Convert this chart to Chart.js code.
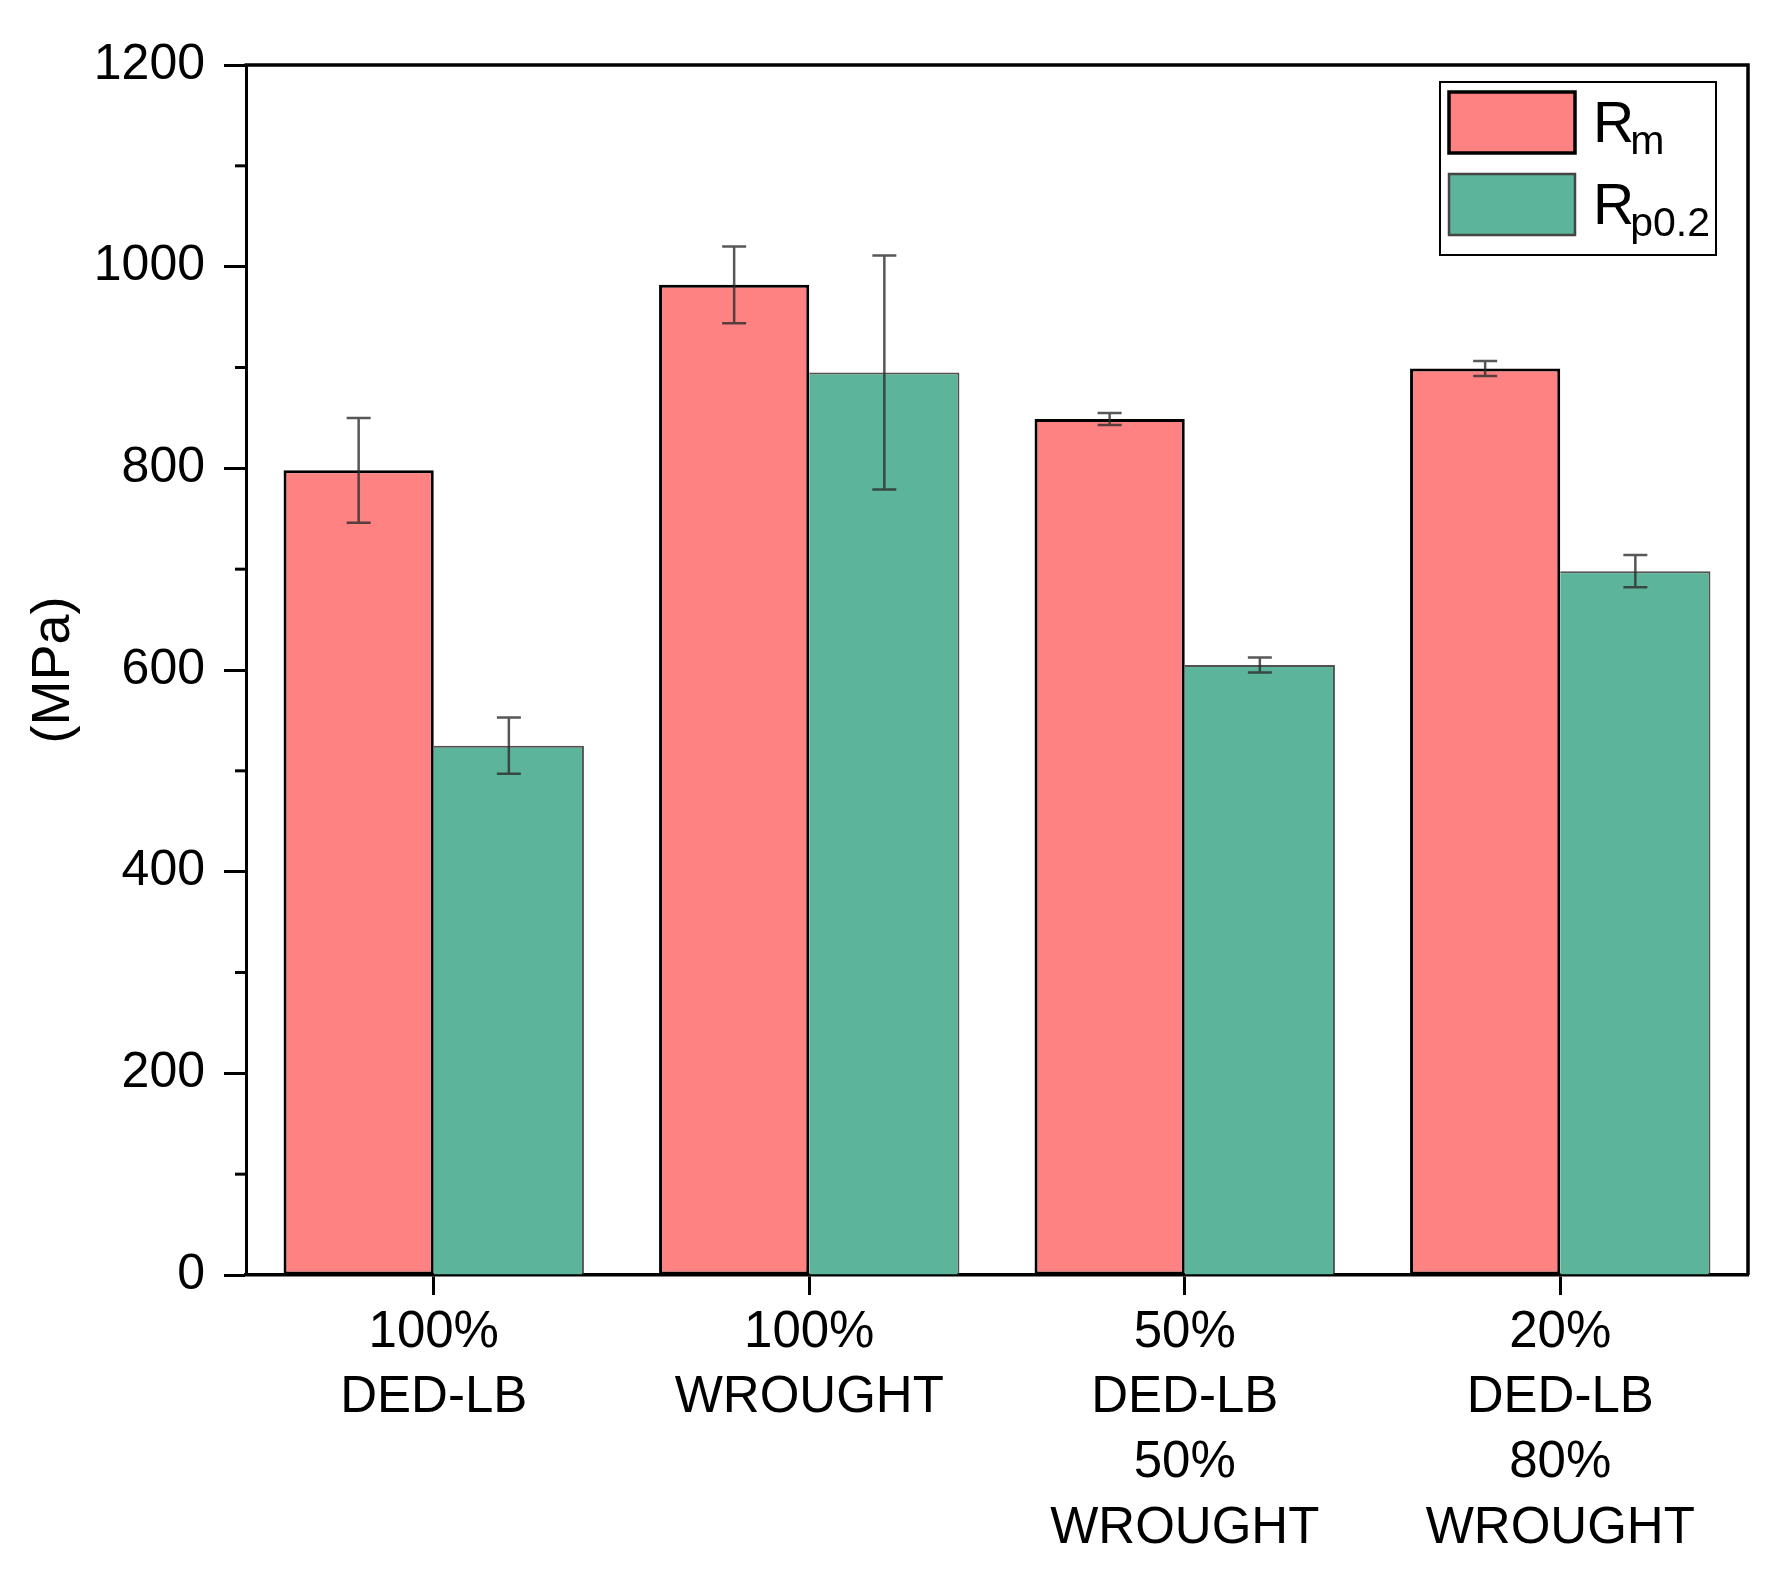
<!DOCTYPE html>
<html>
<head>
<meta charset="utf-8">
<script src="https://cdn.jsdelivr.net/npm/chart.js@4.4.1/dist/chart.umd.min.js"></script>
<style>
    html, body { margin: 0; padding: 0; background: #fff; }
    canvas { display: block; }
</style>
</head>
<body>
<canvas id="graph" width="1784" height="1574"></canvas>
<script>
// data
const categories = [
    ['100%', 'DED-LB'],
    ['100%', 'WROUGHT'],
    ['50%', 'DED-LB', '50%', 'WROUGHT'],
    ['20%', 'DED-LB', '80%', 'WROUGHT']
];
const rmValues = [798, 982, 849, 899];
const rmErrors = [52, 38, 6, 7.5];
const rpValues = [525, 895, 605, 698];
const rpErrors = [28, 116, 7.5, 16];
const legendMain = ['R', 'R'];
const legendSub = ['m', 'p0.2'];
const minorTicks = [100, 300, 500, 700, 900, 1100];

const FONT = '"Liberation Sans", Arial, sans-serif';
const RED = 'rgb(255,130,130)';
const GREEN = 'rgb(92,181,154)';

// error bars drawn on top of the bars
const errorBars = {
    id: 'errorBars',
    afterDatasetsDraw(chart) {
        const ctx = chart.ctx;
        const y = chart.scales.y;
        ctx.save();
        ctx.strokeStyle = 'rgba(45,45,45,0.8)';
        ctx.lineWidth = 2.5;
        chart.data.datasets.forEach((ds, i) => {
            const meta = chart.getDatasetMeta(i);
            meta.data.forEach((bar, j) => {
                const v = ds.data[j];
                const e = ds.errors[j];
                const yTop = y.getPixelForValue(v + e);
                const yBot = y.getPixelForValue(v - e);
                const x = bar.x;
                ctx.beginPath();
                ctx.moveTo(x, yTop);
                ctx.lineTo(x, yBot);
                ctx.moveTo(x - 12, yTop);
                ctx.lineTo(x + 12, yTop);
                ctx.moveTo(x - 12, yBot);
                ctx.lineTo(x + 12, yBot);
                ctx.stroke();
            });
        });
        ctx.restore();
    }
};

// box frame, minor ticks and legend with subscripts
const decorations = {
    id: 'decorations',
    afterDraw(chart) {
        const ctx = chart.ctx;
        const area = chart.chartArea;
        const y = chart.scales.y;
        ctx.save();
        ctx.strokeStyle = '#000';
        ctx.lineWidth = 3.5;
        ctx.beginPath();
        ctx.moveTo(area.left - 1.5, area.top);
        ctx.lineTo(area.right, area.top);
        ctx.lineTo(area.right, area.bottom);
        ctx.stroke();

        ctx.lineWidth = 3;
        minorTicks.forEach(v => {
            const py = y.getPixelForValue(v);
            ctx.beginPath();
            ctx.moveTo(area.left - 11, py);
            ctx.lineTo(area.left, py);
            ctx.stroke();
        });

        // legend
        const lx = area.right - 308, ly = area.top + 17;
        ctx.lineWidth = 2;
        ctx.strokeRect(lx, ly, 276, 173);
        chart.data.datasets.forEach((ds, i) => {
            const sy = ly + 10 + i * 82;
            ctx.fillStyle = ds.backgroundColor;
            ctx.fillRect(lx + 9, sy, 126, 61);
            ctx.lineWidth = i === 0 ? 3.5 : 2.5;
            ctx.strokeStyle = i === 0 ? '#000' : '#444';
            ctx.strokeRect(lx + 9, sy, 126, 61);
            ctx.fillStyle = '#000';
            ctx.textBaseline = 'alphabetic';
            ctx.textAlign = 'left';
            ctx.font = '57px ' + FONT;
            ctx.fillText(legendMain[i], lx + 153, sy + 50);
            const w = ctx.measureText(legendMain[i]).width;
            ctx.font = '41px ' + FONT;
            ctx.fillText(legendSub[i], lx + 149 + w, sy + 62);
        });
        ctx.restore();
    }
};

const ctx = document.getElementById('graph').getContext('2d');
new Chart(ctx, {
    type: 'bar',
    data: {
        labels: categories,
        datasets: [{
            label: 'Rm',
            data: rmValues,
            errors: rmErrors,
            backgroundColor: RED,
            borderColor: '#000',
            borderWidth: 3,
            borderSkipped: false
        }, {
            label: 'Rp0.2',
            data: rpValues,
            errors: rpErrors,
            backgroundColor: GREEN,
            borderColor: 'rgba(50,50,50,0.85)',
            borderWidth: { top: 2, right: 2, bottom: 0, left: 0 },
            borderSkipped: false
        }]
    },
    options: {
        responsive: false,
        devicePixelRatio: 1,
        animation: false,
        categoryPercentage: 0.8,
        barPercentage: 1.0,
        layout: { padding: { top: 65, right: 36, left: 0, bottom: 0 } },
        scales: {
            x: {
                offset: true,
                afterFit: (s) => { s.height = 299; },
                grid: {
                    offset: false,
                    drawOnChartArea: false,
                    tickLength: 20,
                    tickWidth: 3,
                    tickColor: '#000'
                },
                border: { color: '#000', width: 3.5 },
                ticks: {
                    color: '#000',
                    padding: 5,
                    maxRotation: 0,
                    autoSkip: false,
                    font: { family: FONT, size: 51, lineHeight: 1.28 }
                }
            },
            y: {
                min: 0,
                max: 1200,
                afterFit: (s) => { s.width = 246; },
                grid: {
                    drawOnChartArea: false,
                    tickLength: 22,
                    tickWidth: 3,
                    tickColor: '#000'
                },
                border: { color: '#000', width: 3 },
                ticks: {
                    stepSize: 200,
                    color: '#000',
                    padding: 19,
                    callback: (v) => String(v),
                    font: { family: FONT, size: 50 }
                },
                title: {
                    display: true,
                    text: '(MPa)',
                    color: '#000',
                    padding: { top: 22, bottom: 0 },
                    font: { family: FONT, size: 54 }
                }
            }
        },
        plugins: {
            legend: { display: false },
            tooltip: { enabled: false }
        }
    },
    plugins: [errorBars, decorations]
});
</script>
</body>
</html>
